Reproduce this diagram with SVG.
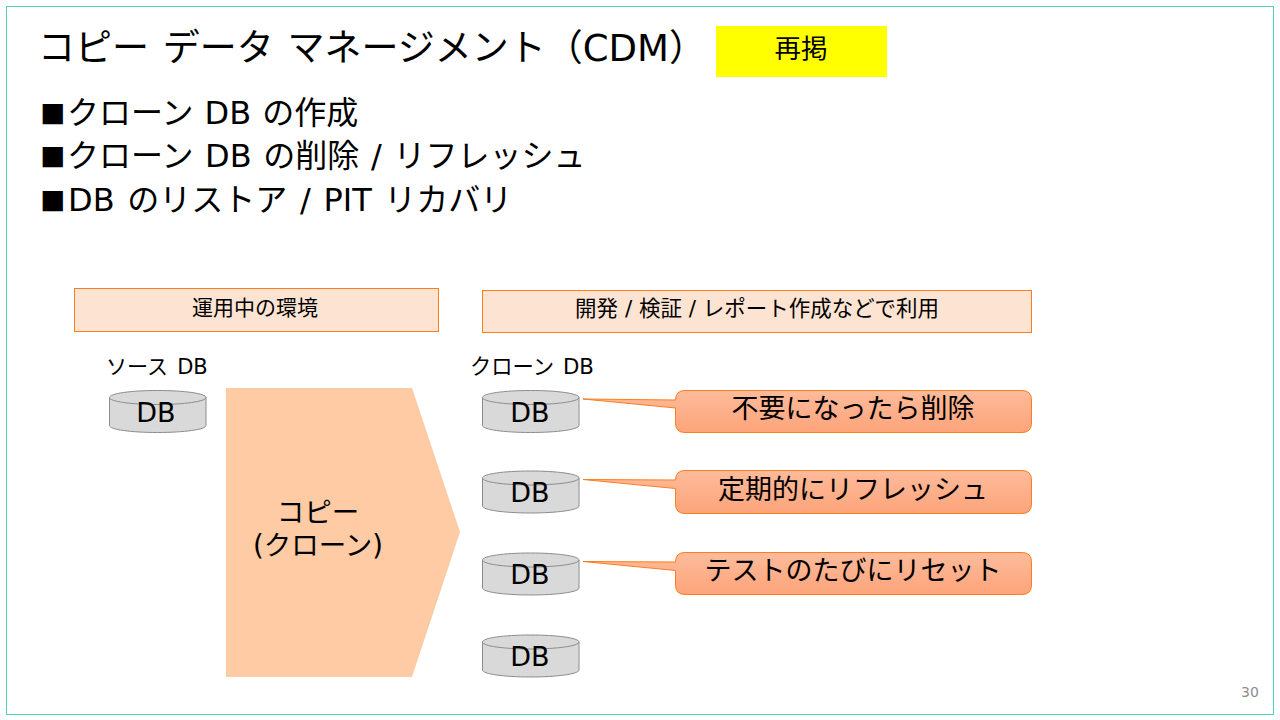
<svg xmlns="http://www.w3.org/2000/svg" width="1280" height="720" viewBox="0 0 1280 720">
<style>
text{font-family:"DejaVu Sans","Noto Sans CJK JP",sans-serif;fill:#000}
.c{text-anchor:middle}
.hdr{fill:#fde4d2;stroke:#fd7e1e;stroke-width:1}
.db{fill:#d9d9d9;stroke:#8c8c8c;stroke-width:1}
.call{fill:url(#g);stroke:#fd7e1e;stroke-width:1}
</style>
<defs><linearGradient id="g" x1="0" y1="0" x2="0" y2="1"><stop offset="0" stop-color="#fdbb9b"/><stop offset="1" stop-color="#fda47a"/></linearGradient>
<g id="cyl"><path class="db" d="M0 7V35C0 39 21.500 42 48 42S96.500 39 96.500 35V7C96.500 3 75 0 48 0S0 3 0 7Z"/><path class="db" d="M0 7C0 11 21.500 14 48 14S96.500 11 96.500 7" style="fill:none"/></g></defs>
<rect width="1280" height="720" fill="#fff"/>
<rect x="6.500" y="6.500" width="1267" height="708" fill="none" stroke="#4fd5b2" stroke-width="1"/>
<g id="title"><text x="38" y="61" font-size="37" word-spacing="2">コピー データ マネージメント（CDM）</text></g>
<g id="badge"><rect x="716" y="26" width="171" height="51" fill="#ffff00"/><text class="c" x="801" y="58" font-size="26.500">再掲</text></g>
<g id="bullets" font-size="32">
<text x="40" y="121" font-size="26.500">■</text><text x="67" y="124" word-spacing="1">クローン DB の作成</text>
<text x="40" y="164" font-size="26.500">■</text><text x="67" y="167" word-spacing="1.500">クローン DB の削除 / リフレッシュ</text>
<text x="40" y="208" font-size="26.500">■</text><text x="68" y="211" word-spacing="2.500">DB のリストア / PIT リカバリ</text></g>
<g id="env-left"><rect class="hdr" x="74.500" y="288.500" width="364" height="43"/><text class="c" x="255" y="315" font-size="21">運用中の環境</text></g>
<g id="env-right"><rect class="hdr" x="482.500" y="290.500" width="549" height="42"/><text class="c" x="757" y="316" font-size="21.500">開発 / 検証 / レポート作成などで利用</text></g>
<g id="src-label"><text x="106" y="374" font-size="21" word-spacing="2.500">ソース DB</text></g>
<g id="clone-label"><text x="470" y="374" font-size="21.300" word-spacing="2">クローン DB</text></g>
<g id="src-db"><use href="#cyl" x="109.500" y="390.500"/><text class="c" x="156" y="422" font-size="27">DB</text></g>
<g id="copy-arrow"><polygon points="226,388 412,388 460,532 412,677 226,677" fill="#fecba4"/><text class="c" font-size="27.500"><tspan x="318" y="522">コピー</tspan><tspan x="318" y="555">(クローン)</tspan></text></g>
<g id="clone1"><use href="#cyl" x="482.500" y="390.500"/><text class="c" x="530" y="422" font-size="27">DB</text></g>
<g id="clone2"><use href="#cyl" x="482.500" y="471"/><text class="c" x="530" y="502" font-size="27">DB</text></g>
<g id="clone3"><use href="#cyl" x="482.500" y="553"/><text class="c" x="530" y="584" font-size="27">DB</text></g>
<g id="clone4"><use href="#cyl" x="482.500" y="635"/><text class="c" x="530" y="666" font-size="27">DB</text></g>
<g id="note1"><path class="call" d="M675.500 400Q675.500 390.500 685 390.500H1022Q1031.500 390.500 1031.500 400V423Q1031.500 432.500 1022 432.500H685Q675.500 432.500 675.500 423V408L583 399Z"/><text class="c" x="853" y="418" font-size="27">不要になったら削除</text></g>
<g id="note2"><path class="call" d="M675.500 480Q675.500 470.500 685 470.500H1022Q1031.500 470.500 1031.500 480V504Q1031.500 513.500 1022 513.500H685Q675.500 513.500 675.500 504V488.500L583 479.500Z"/><text class="c" x="853" y="499" font-size="27">定期的にリフレッシュ</text></g>
<g id="note3"><path class="call" d="M675.500 562Q675.500 552.500 685 552.500H1022Q1031.500 552.500 1031.500 562V585Q1031.500 594.500 1022 594.500H685Q675.500 594.500 675.500 585V570.500L583 561.500Z"/><text class="c" x="853" y="580" font-size="27">テストのたびにリセット</text></g>
<text x="1241" y="697" font-size="14" style="fill:#8c8c8c">30</text>
</svg>
